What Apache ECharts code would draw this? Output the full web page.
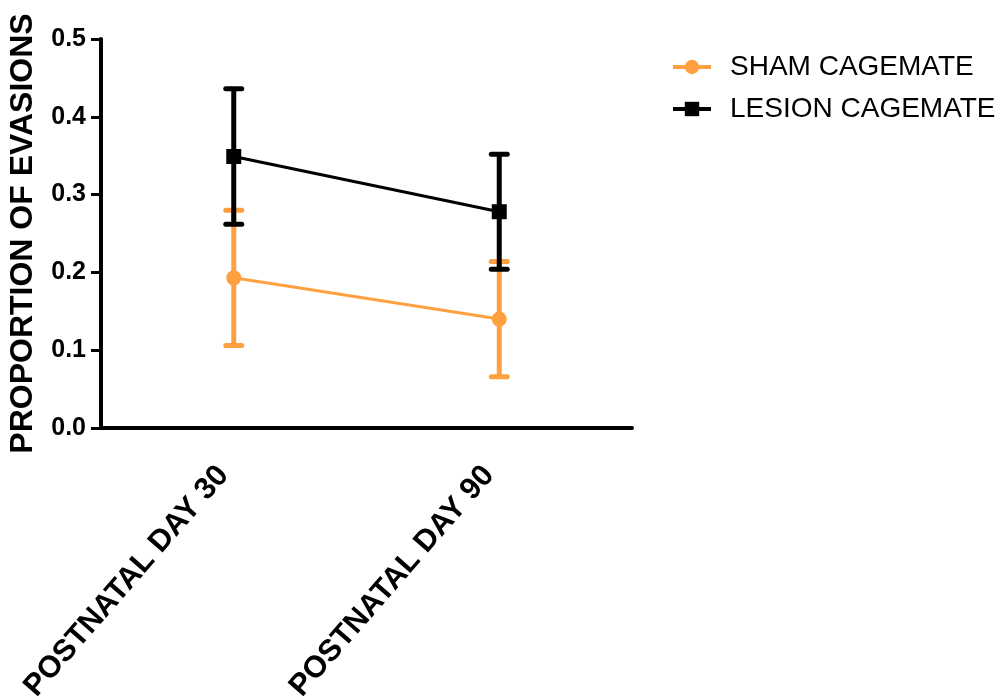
<!DOCTYPE html>
<html>
<head>
<meta charset="utf-8">
<script src="https://cdn.jsdelivr.net/npm/echarts@6/dist/echarts.min.js"></script>
<style>
  html, body { margin: 0; padding: 0; background: #fff; }
  #chart { width: 1002px; height: 700px; }
</style>
</head>
<body>
<div id="chart"></div>
<script>
// Proportion of evasions by age, mean with SEM error bars
var categories = ['POSTNATAL DAY 30', 'POSTNATAL DAY 90'];
var yTicks = [0.0, 0.1, 0.2, 0.3, 0.4, 0.5];

var shamName = 'SHAM CAGEMATE';
var shamMean = [0.193, 0.140];
var shamSem = [0.087, 0.074];

var lesionName = 'LESION CAGEMATE';
var lesionMean = [0.349, 0.278];
var lesionSem = [0.087, 0.074];

var ORANGE = '#ffa040';
var BLACK = '#000000';
var FONT = "'Liberation Sans', Arial, sans-serif";

function errorRows(mean, sem) {
  return mean.map(function (m, i) { return [i, m - sem[i], m + sem[i]]; });
}

function errorBar(color) {
  return function (params, api) {
    var i = api.value(0);
    var lo = api.coord([i, api.value(1)]);
    var hi = api.coord([i, api.value(2)]);
    var half = 8;
    var st = { stroke: color, lineWidth: 5, lineCap: 'round' };
    return {
      type: 'group',
      children: [
        { type: 'line', shape: { x1: lo[0], y1: lo[1], x2: hi[0], y2: hi[1] }, style: { stroke: color, lineWidth: 5 } },
        { type: 'line', shape: { x1: hi[0] - half, y1: hi[1], x2: hi[0] + half, y2: hi[1] }, style: st },
        { type: 'line', shape: { x1: lo[0] - half, y1: lo[1], x2: lo[0] + half, y2: lo[1] }, style: st }
      ]
    };
  };
}

var chart = echarts.init(document.getElementById('chart'), null, { renderer: 'canvas' });
chart.setOption({
  animation: false,
  backgroundColor: '#fff',
  grid: { left: 101, right: 370, top: 39, bottom: 272, containLabel: false, outerBoundsMode: 'none' },
  legend: {
    orient: 'vertical',
    left: 666,
    top: 48,
    itemWidth: 38,
    itemHeight: 18,
    itemGap: 14,
    data: [shamName, lesionName],
    lineStyle: { width: 4 },
    textStyle: { fontFamily: FONT, fontSize: 28, color: '#000', padding: [0, 0, 0, 14] }
  },
  xAxis: {
    type: 'category',
    data: categories,
    boundaryGap: true,
    axisLine: { lineStyle: { color: '#000', width: 4 } },
    axisTick: { alignWithLabel: true, length: 11, lineStyle: { color: '#000', width: 3 } },
    axisLabel: {
      rotate: 49, margin: 30, padding: [0, 16, 0, 0], color: '#000', fontFamily: FONT,
      fontWeight: 'bold', fontSize: 30.5
    },
    splitLine: { show: false }
  },
  yAxis: {
    type: 'value',
    min: yTicks[0],
    max: yTicks[yTicks.length - 1],
    interval: 0.1,
    name: 'PROPORTION OF EVASIONS',
    nameLocation: 'middle',
    nameGap: 62,
    nameTextStyle: { fontFamily: FONT, fontWeight: 'bold', fontSize: 32, color: '#000' },
    axisLine: { show: true, lineStyle: { color: '#000', width: 4 } },
    axisTick: { show: true, length: 10, lineStyle: { color: '#000', width: 3 } },
    axisLabel: {
      margin: 15, color: '#000', fontFamily: FONT, fontWeight: 'bold', fontSize: 25,
      formatter: function (v) { return v.toFixed(1); }
    },
    splitLine: { show: false }
  },
  series: [
    {
      name: shamName + ' SEM',
      type: 'custom',
      z: 2,
      renderItem: errorBar(ORANGE),
      encode: { x: 0, y: [1, 2] },
      data: errorRows(shamMean, shamSem)
    },
    {
      name: shamName,
      type: 'line',
      z: 3,
      data: shamMean,
      symbol: 'circle',
      symbolSize: 15,
      itemStyle: { color: ORANGE },
      lineStyle: { color: ORANGE, width: 3 }
    },
    {
      name: lesionName + ' SEM',
      type: 'custom',
      z: 4,
      renderItem: errorBar(BLACK),
      encode: { x: 0, y: [1, 2] },
      data: errorRows(lesionMean, lesionSem)
    },
    {
      name: lesionName,
      type: 'line',
      z: 5,
      data: lesionMean,
      symbol: 'rect',
      symbolSize: 15,
      itemStyle: { color: BLACK },
      lineStyle: { color: BLACK, width: 3 }
    }
  ]
});
</script>
</body>
</html>
